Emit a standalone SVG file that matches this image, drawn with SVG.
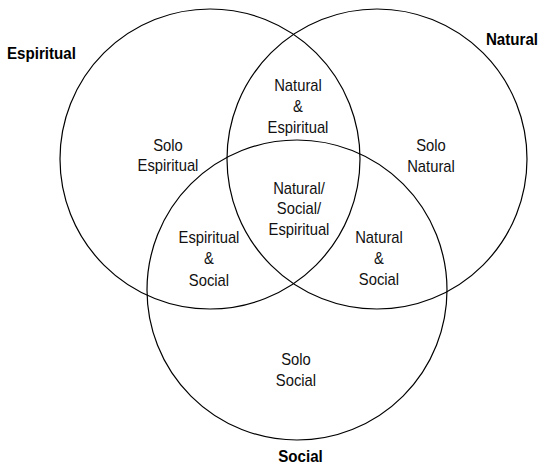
<svg xmlns="http://www.w3.org/2000/svg" width="541" height="464" viewBox="0 0 541 464">
  <style>
    .ring { fill: none; stroke: #000; stroke-width: 1.2; }
    .lbl { font-family: "Liberation Sans", Arial, sans-serif; font-size: 17px; fill: #111; text-anchor: middle; }
    .ttl { font-family: "Liberation Sans", Arial, sans-serif; font-size: 17px; font-weight: bold; fill: #000; }
  </style>
  <rect width="541" height="464" fill="#fff"/>

  <!-- the three overlapping sets -->
  <g id="sets">
    <circle id="set-espiritual" class="ring" cx="210" cy="159" r="150"/>
    <circle id="set-natural" class="ring" cx="377" cy="159" r="150"/>
    <circle id="set-social" class="ring" cx="297" cy="290" r="150"/>
  </g>

  <!-- set titles -->
  <g id="title-espiritual"><text class="ttl" transform="translate(7 58.5) scale(0.89 1)">Espiritual</text></g>
  <g id="title-natural"><text class="ttl" transform="translate(538 45) scale(0.89 1)" text-anchor="end">Natural</text></g>
  <g id="title-social"><text class="ttl" transform="translate(300.5 461.5) scale(0.89 1)" text-anchor="middle">Social</text></g>

  <!-- region labels -->
  <g id="solo-espiritual">
    <text class="lbl" transform="translate(168 151) scale(0.87 1)"><tspan x="0" y="0">Solo</tspan><tspan x="0" y="20.5">Espiritual</tspan></text>
  </g>
  <g id="natural-espiritual">
    <text class="lbl" transform="translate(298 91) scale(0.87 1)"><tspan x="0" y="0">Natural</tspan><tspan x="0" y="21">&amp;</tspan><tspan x="0" y="42">Espiritual</tspan></text>
  </g>
  <g id="solo-natural">
    <text class="lbl" transform="translate(431 151) scale(0.87 1)"><tspan x="0" y="0">Solo</tspan><tspan x="0" y="21">Natural</tspan></text>
  </g>
  <g id="all-three">
    <text class="lbl" transform="translate(299 194) scale(0.87 1)"><tspan x="0" y="0">Natural/</tspan><tspan x="0" y="20.5">Social/</tspan><tspan x="0" y="41">Espiritual</tspan></text>
  </g>
  <g id="espiritual-social">
    <text class="lbl" transform="translate(209 243) scale(0.87 1)"><tspan x="0" y="0">Espiritual</tspan><tspan x="0" y="21.5">&amp;</tspan><tspan x="0" y="43">Social</tspan></text>
  </g>
  <g id="natural-social">
    <text class="lbl" transform="translate(379 243) scale(0.87 1)"><tspan x="0" y="0">Natural</tspan><tspan x="0" y="21">&amp;</tspan><tspan x="0" y="42">Social</tspan></text>
  </g>
  <g id="solo-social">
    <text class="lbl" transform="translate(296 365) scale(0.87 1)"><tspan x="0" y="0">Solo</tspan><tspan x="0" y="20.7">Social</tspan></text>
  </g>
</svg>
